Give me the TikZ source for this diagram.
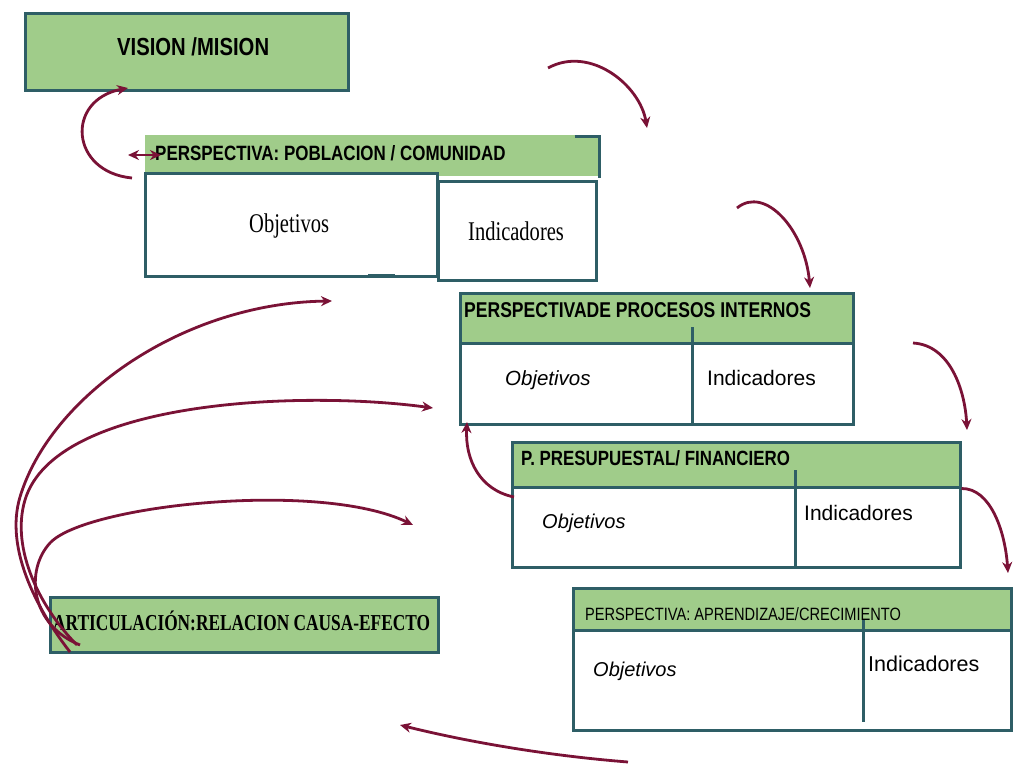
\documentclass[tikz,border=0pt]{standalone}
\usepackage{fontspec}
\setmainfont{Liberation Sans}
\newfontfamily\narrowsans[FakeStretch=0.82]{Liberation Sans}
\newfontfamily\narrowserif[FakeStretch=0.76]{Liberation Serif}
\usetikzlibrary{arrows.meta}
\definecolor{box_green}{RGB}{160,204,138}
\definecolor{box_edge}{RGB}{46,94,102}
\definecolor{arrow_red}{RGB}{122,18,54}

\begin{document}
\begin{tikzpicture}[x=1pt,y=-1pt,>={Stealth[length=11pt,width=10pt]},
    ttl/.style={anchor=base west,inner sep=0pt,font=\narrowsans\bfseries\fontsize{#1}{#1}\selectfont},
    ttlr/.style={anchor=base west,inner sep=0pt,font=\narrowsans\fontsize{#1}{#1}\selectfont},
    srf/.style={anchor=base west,inner sep=0pt,font=\narrowserif\fontsize{#1}{#1}\selectfont},
    txt/.style={anchor=base west,inner sep=0pt,font=\fontsize{#1}{#1}\selectfont},
    itx/.style={anchor=base west,inner sep=0pt,font=\itshape\fontsize{#1}{#1}\selectfont}]
    \tikzstyle{head}=[rectangle, draw=box_edge, line width=3pt, fill=box_green, inner sep=0pt]
    \tikzstyle{cell}=[rectangle, draw=box_edge, line width=3pt, fill=white, inner sep=0pt]
    \tikzstyle{link}=[->, draw=arrow_red, line width=2.8pt]

    \useasboundingbox (0,0) rectangle (1013,764);

    % boxes
    \node[head, minimum width=323pt, minimum height=77pt]          (vision) at (186.5,51.5) {};
    \node[head, draw=none, minimum width=453pt, minimum height=41pt] (pobH) at (371.5,155.5) {};
    \node[cell, minimum width=292pt, minimum height=103pt]         (pobO) at (291,224.5) {};
    \node[cell, minimum width=158pt, minimum height=99pt]          (pobI) at (517,230.5) {};
    \draw[box_edge, line width=3pt] ([xshift=-25pt,yshift=-3pt]pobH.north east) -- ([yshift=-3pt]pobH.north east) -- (pobH.south east);
    \fill[box_edge] (368,274) rectangle (395,278);

    \node[head, minimum width=393pt, minimum height=50pt]  (prcH) at (656.5,318) {};
    \node[cell, minimum width=393pt, minimum height=81pt]  (prcB) at (656.5,383.5) {};
    \draw[box_edge, line width=3pt] (692,327) -- (692,424);

    \node[head, minimum width=448pt, minimum height=45pt]  (preH) at (736,464.5) {};
    \node[cell, minimum width=448pt, minimum height=80pt]  (preB) at (736,527) {};
    \draw[box_edge, line width=3pt] (795,470) -- (795,567);

    \node[head, minimum width=438pt, minimum height=42pt]  (aprH) at (792,609) {};
    \node[cell, minimum width=438pt, minimum height=100pt] (aprB) at (792,680) {};
    \draw[box_edge, line width=3pt] (863,620) -- (863,722);

    \node[head, minimum width=388pt, minimum height=55pt]  (art) at (244,624.5) {};

    % texts
    \node[ttl=24.7] (visT) at (117,55)  {VISION /MISION};
    \node[ttl=20.7] (pobT) at (155,160) {PERSPECTIVA: POBLACION / COMUNIDAD};
    \node[srf=27]   (pobOT) at (249,232) {Objetivos};
    \node[srf=27]   (pobIT) at (468,240) {Indicadores};

    \node[ttl=21.4] (prcT) at (464,317) {PERSPECTIVADE PROCESOS INTERNOS};
    \node[itx=20.5] (prcOT) at (505,385) {Objetivos};
    \node[txt=21]   (prcIT) at (707,385) {Indicadores};

    \node[ttl=20.6] (preT) at (521,465) {P. PRESUPUESTAL/ FINANCIERO};
    \node[itx=20]   (preOT) at (542,528) {Objetivos};
    \node[txt=21]   (preIT) at (804,520) {Indicadores};

    \node[ttlr=17.8] (aprT) at (585,620) {PERSPECTIVA: APRENDIZAJE/CRECIMIENTO};
    \node[itx=20]    (aprOT) at (593,676) {Objetivos};
    \node[txt=21.5]  (aprIT) at (868,671) {Indicadores};

    \node[anchor=base west, inner sep=0pt, font=\narrowserif\bfseries\fontsize{22.8}{22.8}\selectfont]
        (artT) at (53,630) {ARTICULACIÓN:RELACION CAUSA-EFECTO};

    % arrow ends
    \coordinate (vloopS) at (132,178);
    \coordinate (vloopE) at (128,88);
    \coordinate (dblL) at (128,155);
    \coordinate (dblR) at (161,155);
    \coordinate (arc1S) at (548,68);
    \coordinate (arc1E) at (647,128);
    \coordinate (arc2S) at (737,208);
    \coordinate (arc2E) at (810,288);
    \coordinate (arc3S) at (913,343);
    \coordinate (arc3E) at (967,430);
    \coordinate (arc4E) at (1008,573);
    \coordinate (backS) at (514,497);
    \coordinate (backE) at (467,422);
    \coordinate (botS) at (628,762);
    \coordinate (botE) at (400,725);
    \coordinate (causeA) at (70,652);
    \coordinate (causeB) at (77,645);
    \coordinate (causeC) at (80,645);
    \coordinate (tgtA) at (332,301);
    \coordinate (tgtB) at (433,408);
    \coordinate (tgtC) at (413,525);

    % arrows
    \draw[link] (vloopS) .. controls (70,172) and (65,100) .. (vloopE);
    \draw[link,<->] (dblL) -- (dblR);
    \draw[link] (arc1S) .. controls (590,45) and (640,85) .. (arc1E);
    \draw[link] (arc2S) .. controls (765,185) and (805,230) .. (arc2E);
    \draw[link] (arc3S) .. controls (950,345) and (965,390) .. (arc3E);
    \draw[link] (preH.south east) .. controls (990,488) and (1005,530) .. (arc4E);
    \draw[link] (backS) .. controls (480,490) and (465,460) .. (backE);
    \draw[link] (botS) .. controls (540,755) and (460,740) .. (botE);

    \draw[link] (causeA) .. controls (35,607) and (5,547) .. (20,497)
                         .. controls (50,397) and (182,303) .. (tgtA);
    \draw[link] (causeB) .. controls (42,610) and (10,550) .. (25,500)
                         .. controls (55,400) and (300,390) .. (tgtB);
    \draw[link] (causeC) .. controls (30,625) and (25,570) .. (50,543)
                         .. controls (85,505) and (320,480) .. (tgtC);
\end{tikzpicture}
\end{document}
